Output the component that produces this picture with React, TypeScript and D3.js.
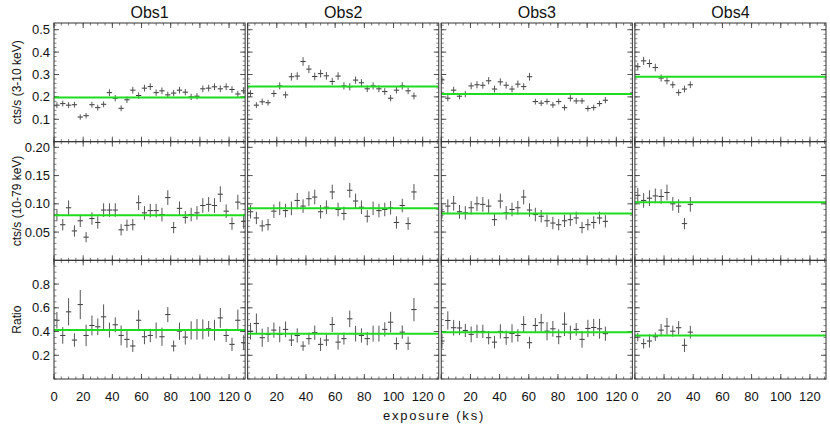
import * as d3 from 'd3';

// bin centres (ks)
const time1 = [2, 6, 10, 14, 18, 22, 26, 30, 34, 38, 42, 46, 50, 54, 58, 62, 66, 70, 74, 78, 82, 86, 90, 94, 98, 102, 106, 110, 114, 118, 122, 126, 130];
const time2 = [2, 6, 10, 14, 18, 22, 26, 30, 34, 38, 42, 46, 50, 54, 58, 62, 66, 70, 74, 78, 82, 86, 90, 94, 98, 102, 106, 110, 114];
const time3 = [0.5, 4.5, 8.5, 12.5, 16.5, 20.5, 24.5, 28.5, 32.5, 36.5, 40.5, 44.5, 48.5, 52.5, 56.5, 60.5, 64.5, 68.5, 72.5, 76.5, 80.5, 84.5, 88.5, 92.5, 96.5, 100.5, 104.5, 108.5, 112.5];
const time4 = [2, 6, 10, 14, 18, 22, 26, 30, 34, 38];

// 3-10 keV rates
const soft1 = [0.163, 0.170, 0.163, 0.165, 0.110, 0.116, 0.165, 0.152, 0.167, 0.219, 0.194, 0.149, 0.187, 0.230, 0.206, 0.239, 0.246, 0.219, 0.227, 0.209, 0.217, 0.230, 0.221, 0.200, 0.203, 0.236, 0.239, 0.245, 0.236, 0.245, 0.233, 0.213, 0.227];
const soft2 = [0.215, 0.163, 0.178, 0.174, 0.215, 0.249, 0.209, 0.290, 0.293, 0.358, 0.324, 0.291, 0.304, 0.294, 0.269, 0.293, 0.249, 0.245, 0.275, 0.263, 0.236, 0.249, 0.236, 0.224, 0.194, 0.230, 0.249, 0.227, 0.204];
const soft3 = [0.276, 0.194, 0.230, 0.203, 0.212, 0.249, 0.254, 0.252, 0.272, 0.235, 0.267, 0.252, 0.235, 0.257, 0.246, 0.290, 0.179, 0.172, 0.179, 0.164, 0.179, 0.152, 0.194, 0.182, 0.182, 0.148, 0.152, 0.170, 0.185];
const soft4 = [0.335, 0.361, 0.349, 0.331, 0.284, 0.272, 0.254, 0.219, 0.235, 0.254];
const softErr1 = [0.013, 0.013, 0.013, 0.013, 0.012, 0.012, 0.013, 0.013, 0.013, 0.015, 0.014, 0.013, 0.014, 0.015, 0.014, 0.015, 0.015, 0.014, 0.015, 0.014, 0.014, 0.015, 0.014, 0.014, 0.014, 0.015, 0.015, 0.015, 0.015, 0.015, 0.015, 0.014, 0.015];
const softErr2 = [0.015, 0.013, 0.014, 0.013, 0.015, 0.016, 0.015, 0.017, 0.017, 0.019, 0.018, 0.017, 0.017, 0.017, 0.016, 0.017, 0.016, 0.016, 0.016, 0.016, 0.015, 0.016, 0.015, 0.015, 0.014, 0.015, 0.016, 0.015, 0.015];
const softErr3 = [0.016, 0.014, 0.015, 0.014, 0.014, 0.015, 0.016, 0.015, 0.016, 0.015, 0.016, 0.015, 0.015, 0.016, 0.015, 0.017, 0.013, 0.013, 0.013, 0.013, 0.013, 0.013, 0.014, 0.013, 0.013, 0.013, 0.013, 0.013, 0.014];
const softErr4 = [0.017, 0.018, 0.018, 0.017, 0.016, 0.016, 0.015, 0.014, 0.015, 0.015];

// 10-79 keV rates
const hard1 = [0.080, 0.063, 0.093, 0.052, 0.070, 0.041, 0.074, 0.067, 0.089, 0.089, 0.089, 0.054, 0.062, 0.063, 0.102, 0.084, 0.088, 0.088, 0.081, 0.111, 0.058, 0.092, 0.076, 0.081, 0.084, 0.097, 0.099, 0.097, 0.117, 0.087, 0.065, 0.103, 0.069];
const hard2 = [0.086, 0.075, 0.061, 0.063, 0.087, 0.092, 0.088, 0.092, 0.106, 0.096, 0.109, 0.112, 0.086, 0.094, 0.121, 0.090, 0.083, 0.124, 0.105, 0.094, 0.078, 0.092, 0.088, 0.090, 0.093, 0.067, 0.097, 0.065, 0.121];
const hard3 = [0.086, 0.096, 0.101, 0.086, 0.084, 0.093, 0.100, 0.099, 0.096, 0.072, 0.105, 0.084, 0.090, 0.093, 0.112, 0.089, 0.081, 0.078, 0.070, 0.066, 0.063, 0.070, 0.072, 0.075, 0.058, 0.063, 0.067, 0.075, 0.069];
const hard4 = [0.115, 0.106, 0.110, 0.114, 0.113, 0.120, 0.100, 0.096, 0.065, 0.099];
const hardErr1 = [0.011, 0.010, 0.013, 0.010, 0.011, 0.009, 0.011, 0.011, 0.012, 0.012, 0.012, 0.010, 0.010, 0.010, 0.013, 0.012, 0.012, 0.012, 0.012, 0.013, 0.010, 0.012, 0.011, 0.012, 0.012, 0.013, 0.013, 0.013, 0.014, 0.012, 0.011, 0.013, 0.013];
const hardErr2 = [0.012, 0.011, 0.010, 0.010, 0.012, 0.012, 0.012, 0.012, 0.013, 0.012, 0.013, 0.013, 0.012, 0.012, 0.013, 0.012, 0.012, 0.013, 0.013, 0.012, 0.011, 0.012, 0.012, 0.012, 0.012, 0.011, 0.012, 0.011, 0.014];
const hardErr3 = [0.012, 0.012, 0.013, 0.012, 0.012, 0.012, 0.013, 0.013, 0.012, 0.011, 0.013, 0.012, 0.012, 0.012, 0.013, 0.012, 0.012, 0.011, 0.011, 0.011, 0.010, 0.011, 0.011, 0.011, 0.010, 0.010, 0.011, 0.011, 0.011];
const hardErr4 = [0.013, 0.013, 0.014, 0.013, 0.013, 0.014, 0.012, 0.012, 0.010, 0.013];

// hardness ratio
const ratio1 = [0.495, 0.367, 0.566, 0.328, 0.627, 0.367, 0.451, 0.440, 0.524, 0.412, 0.457, 0.367, 0.334, 0.278, 0.495, 0.356, 0.367, 0.409, 0.356, 0.543, 0.278, 0.403, 0.353, 0.409, 0.418, 0.418, 0.423, 0.412, 0.515, 0.367, 0.292, 0.495, 0.306];
const ratio2 = [0.403, 0.468, 0.348, 0.376, 0.412, 0.376, 0.418, 0.328, 0.367, 0.278, 0.340, 0.390, 0.292, 0.328, 0.459, 0.311, 0.340, 0.507, 0.382, 0.367, 0.340, 0.382, 0.382, 0.418, 0.479, 0.298, 0.395, 0.301, 0.585];
const ratio3 = [0.320, 0.493, 0.432, 0.430, 0.409, 0.376, 0.401, 0.401, 0.348, 0.311, 0.401, 0.348, 0.384, 0.367, 0.459, 0.306, 0.451, 0.474, 0.403, 0.423, 0.356, 0.462, 0.390, 0.418, 0.334, 0.426, 0.434, 0.423, 0.382];
const ratio4 = [0.353, 0.298, 0.320, 0.356, 0.412, 0.445, 0.403, 0.432, 0.284, 0.395];
const ratioErr1 = [0.07, 0.07, 0.115, 0.056, 0.123, 0.09, 0.084, 0.07, 0.105, 0.063, 0.063, 0.084, 0.07, 0.05, 0.084, 0.063, 0.056, 0.067, 0.077, 0.063, 0.046, 0.073, 0.063, 0.077, 0.087, 0.084, 0.066, 0.087, 0.084, 0.056, 0.056, 0.09, 0.063];
const ratioErr2 = [0.07, 0.084, 0.077, 0.063, 0.064, 0.067, 0.066, 0.05, 0.06, 0.04, 0.05, 0.06, 0.056, 0.05, 0.063, 0.063, 0.05, 0.07, 0.066, 0.06, 0.056, 0.067, 0.067, 0.06, 0.087, 0.052, 0.056, 0.056, 0.098];
const ratioErr3 = [0.06, 0.077, 0.066, 0.06, 0.056, 0.067, 0.056, 0.056, 0.056, 0.053, 0.06, 0.06, 0.077, 0.053, 0.07, 0.05, 0.063, 0.074, 0.077, 0.066, 0.063, 0.1, 0.06, 0.053, 0.07, 0.073, 0.073, 0.084, 0.06];
const ratioErr4 = [0.035, 0.042, 0.056, 0.035, 0.052, 0.07, 0.047, 0.056, 0.056, 0.053];

// constant fits (green lines)
const softFit = [0.197, 0.246, 0.213, 0.29];
const hardFit = [0.080, 0.092, 0.083, 0.103];
const ratioFit = [0.412, 0.382, 0.395, 0.367];

const obsNames = ['Obs1', 'Obs2', 'Obs3', 'Obs4'];
const rowLabels = ['cts/s (3-10 keV)', 'cts/s (10-79 keV)', 'Ratio'];
const xTicks = [0, 20, 40, 60, 80, 100, 120];
const softTicks = [0.1, 0.2, 0.3, 0.4, 0.5];
const hardTicks = [0.05, 0.1, 0.15, 0.2];
const ratioTicks = [0.2, 0.4, 0.6, 0.8];

const times = [time1, time2, time3, time4];
const rows = [
  { vals: [soft1, soft2, soft3, soft4], errs: [softErr1, softErr2, softErr3, softErr4], fit: softFit, domain: [0, 0.53], ticks: softTicks, minor: 0.02, fmt: '.1f' },
  { vals: [hard1, hard2, hard3, hard4], errs: [hardErr1, hardErr2, hardErr3, hardErr4], fit: hardFit, domain: [0, 0.21], ticks: hardTicks, minor: 0.01, fmt: '.2f' },
  { vals: [ratio1, ratio2, ratio3, ratio4], errs: [ratioErr1, ratioErr2, ratioErr3, ratioErr4], fit: ratioFit, domain: [0, 1.0], ticks: ratioTicks, minor: 0.05, fmt: '.1f' },
];

const W = 830;
const H = 428;
const left = 54;
const right = 826;
const top = 23;
const bottom = 379;
const gap = 2.5;
const colW = (right - left - 3 * gap) / 4;
const rowH = (bottom - top) / 3;
const font = '"Liberation Sans", Arial, Helvetica, sans-serif';
const ink = '#333';
const green = '#1edc1e';

export default function App() {
  const panels: JSX.Element[] = [];
  const xMinor = d3.range(0, 131, 5);

  for (let c = 0; c < 4; c++) {
    const x0 = left + c * (colW + gap);
    const x = d3.scaleLinear().domain([0, 131]).range([x0, x0 + colW]);
    for (let r = 0; r < 3; r++) {
      const row = rows[r];
      const y = d3.scaleLinear().domain(row.domain).range([top + (r + 1) * rowH, top + r * rowH]);
      const [y1, y0] = y.range();
      const yMinor = d3.range(0, row.domain[1], row.minor);
      const clipId = `clip-${c}-${r}`;
      const t = times[c];
      const v = row.vals[c];
      const e = row.errs[c];
      panels.push(
        <g key={clipId}>
          <clipPath id={clipId}>
            <rect x={x0} y={y0} width={colW} height={y1 - y0} />
          </clipPath>
          {/* minor ticks */}
          {xMinor.map((d) => (
            <g key={'xm' + d} stroke="#555" strokeWidth={0.8}>
              <line x1={x(d)} x2={x(d)} y1={y1} y2={y1 - 2.5} />
              <line x1={x(d)} x2={x(d)} y1={y0} y2={y0 + 2.5} />
            </g>
          ))}
          {xTicks.map((d) => (
            <g key={'xM' + d} stroke="#444" strokeWidth={0.9}>
              <line x1={x(d)} x2={x(d)} y1={y1} y2={y1 - 5} />
              <line x1={x(d)} x2={x(d)} y1={y0} y2={y0 + 5} />
            </g>
          ))}
          {yMinor.map((d, i) => (
            <g key={'ym' + i} stroke="#666" strokeWidth={0.8}>
              <line x1={x0} x2={x0 + 2.5} y1={y(d)} y2={y(d)} />
              <line x1={x0 + colW} x2={x0 + colW - 2.5} y1={y(d)} y2={y(d)} />
            </g>
          ))}
          {row.ticks.map((d) => (
            <g key={'yM' + d} stroke="#444" strokeWidth={0.9}>
              <line x1={x0} x2={x0 + 5} y1={y(d)} y2={y(d)} />
              <line x1={x0 + colW} x2={x0 + colW - 5} y1={y(d)} y2={y(d)} />
            </g>
          ))}
          <g clipPath={`url(#${clipId})`}>
            {t.map((tt, i) => (
              <g key={i} stroke={ink} strokeWidth={1}>
                <line x1={x(tt - 1.8)} x2={x(tt + 1.8)} y1={y(v[i])} y2={y(v[i])} />
                <line x1={x(tt)} x2={x(tt)} y1={y(v[i] - e[i])} y2={y(v[i] + e[i])} stroke="#555" />
              </g>
            ))}
            <line x1={x0} x2={x0 + colW} y1={y(row.fit[c])} y2={y(row.fit[c])} stroke={green} strokeWidth={2} />
          </g>
          <rect x={x0} y={y0} width={colW} height={y1 - y0} fill="none" stroke={ink} strokeWidth={1} />
          {c === 0 &&
            row.ticks.map((d) => (
              <text key={'yl' + d} x={x0 - 4} y={y(d)} dy="0.35em" textAnchor="end" fontSize={13} fill="#111">
                {d3.format(row.fmt)(d)}
              </text>
            ))}
          {r === 2 &&
            xTicks.map((d) => (
              <text key={'xl' + d} x={x(d)} y={401} textAnchor="middle" fontSize={13} fill="#111">
                {d}
              </text>
            ))}
        </g>
      );
    }
  }

  return (
    <svg width={W} height={H} style={{ position: 'absolute', left: 0, top: 0, background: '#fff' }} fontFamily={font}>
      <rect width={W} height={H} fill="#fff" />
      {panels}
      {obsNames.map((name, c) => (
        <text key={name} x={left + c * (colW + gap) + colW / 2} y={18} textAnchor="middle" fontSize={16} fill="#111">
          {name}
        </text>
      ))}
      {rowLabels.map((lab, r) => (
        <text
          key={lab}
          transform={`translate(17,${top + (r + 0.5) * rowH}) rotate(-90)`}
          dy="0.35em"
          textAnchor="middle"
          fontSize={12}
          fill="#111"
        >
          {lab}
        </text>
      ))}
      <text x={434} y={420} textAnchor="middle" fontSize={13} letterSpacing={1.8} fill="#111">
        exposure (ks)
      </text>
    </svg>
  );
}
